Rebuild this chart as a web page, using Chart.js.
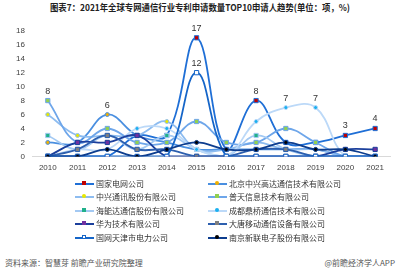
<!DOCTYPE html>
<html>
<head>
<meta charset="utf-8">
<script src="https://cdn.jsdelivr.net/npm/chart.js@4"></script>
<style>
  body { margin: 0; width: 400px; height: 268px; background: #fff; position: relative; overflow: hidden;
         font-family: "Noto Sans CJK SC", "Noto Sans", sans-serif; }
  #title { position: absolute; left: 0; width: 400px; top: 0px; text-align: center; font-size: 9.2px; font-weight: bold; color: #222; white-space: nowrap;
           transform: scaleX(0.91); transform-origin: 200px 0; }
  #wrap { position: absolute; left: 0; top: 18px; width: 400px; height: 162px; }
  #legend { position: absolute; left: 0; top: 178px; width: 400px; }
  .item { position: absolute; height: 12px; font-size: 8px; color: #333; line-height: 12px; white-space: nowrap; }
  .line { position: absolute; top: 5px; left: 0; width: 19px; height: 2px; }
  .mk { position: absolute; top: 3px; left: 7px; width: 4px; height: 4px; box-sizing: border-box; }
  .txt { position: absolute; left: 21px; top: 0; }
  #src { position: absolute; left: 5px; top: 257px; font-size: 8px; color: #555; white-space: nowrap; }
  #app { position: absolute; right: 5px; top: 257px; font-size: 8px; color: #555; white-space: nowrap; }
</style>
</head>
<body>
<div id="title">图表7：2021年全球专网通信行业专利申请数量TOP10申请人趋势(单位：项，%)</div>
<div id="wrap"><canvas id="myChart"></canvas></div>
<div id="legend"></div>
<div id="src">资料来源：智慧芽 前瞻产业研究院整理</div>
<div id="app">@前瞻经济学人APP</div>
<script>
// Years and tick values
const years = ['2010', '2011', '2012', '2013', '2014', '2015', '2016', '2017', '2018', '2019', '2020', '2021'];
const yTicks = [0, 2, 4, 6, 8, 10, 12, 14, 16, 18];

// Series values
const names = [
    '国家电网公司', '北京中兴高达通信技术有限公司',
    '中兴通讯股份有限公司', '普天信息技术有限公司',
    '海能达通信股份有限公司', '成都鼎桥通信技术有限公司',
    '华为技术有限公司', '大唐移动通信设备有限公司',
    '国网天津市电力公司', '南京新联电子股份有限公司'
];
const sgcc      = [0, 0, 0, 3, 3, 17, 1, 8, 2, 2, 3, 4];
const zxgd      = [2, 2, 6, 3, 2, 1, 1, 1, 1, 1, 0, 0];
const zte       = [6, 3, 3, 3, 5, 1, 1, 2, 1, 1, 0, 0];
const potevio   = [8, 2, 4, 2, 2, 5, 2, 2, 4, 2, 0, 0];
const hytera    = [3, 1, 3, 1, 3, 1, 0, 3, 1, 0, 0, 0];
const tdtech    = [0, 1, 1, 4, 4, 1, 0, 5, 7, 7, 0, 0];
const huawei    = [0, 2, 2, 3, 0, 0, 0, 0, 0, 0, 1, 1];
const datang    = [0, 1, 3, 1, 1, 0, 0, 1, 1, 0, 0, 0];
const tianjin   = [0, 0, 0, 0, 0, 12, 0, 0, 0, 0, 0, 0];
const xinlian   = [0, 0, 1, 0, 1, 2, 1, 1, 2, 1, 1, 0];

// Value labels shown above the peaks: [series index, year index]
const peakLabels = [[3, 0], [1, 2], [0, 5], [8, 5], [0, 7], [5, 8], [5, 9], [0, 10], [0, 11]];

const seriesData = [sgcc, zxgd, zte, potevio, hytera, tdtech, huawei, datang, tianjin, xinlian];
const lineColors = ['#1f6fd6', '#4a8fe0', '#8dbcf0', '#6ea6ea', '#a3c9f3', '#bcd9f8', '#1b3f9c', '#2d5fae', '#1565c8', '#0d3d8e'];
const markColors = ['#c00000', '#f0b000', '#e6e800', '#92d050', '#20b08a', '#1ab0f0', '#7030a0', '#7f7f7f', '#ffffff', '#000000'];
const markShapes = ['rect', 'circle', 'circle', 'rect', 'rect', 'circle', 'rect', 'rect', 'rect', 'circle'];

// Peak labels plugin
const labelPlugin = {
    id: 'peakLabels',
    afterDatasetsDraw(chart) {
        const c = chart.ctx;
        c.save();
        c.font = '9px "Liberation Sans", Arial, sans-serif';
        c.fillStyle = '#333';
        c.textAlign = 'center';
        c.textBaseline = 'bottom';
        peakLabels.forEach(([s, i]) => {
            const v = seriesData[s][i];
            const x = chart.scales.x.getPixelForValue(i);
            const y = chart.scales.y.getPixelForValue(v);
            c.fillText(String(v), x, y - 5);
        });
        c.restore();
    }
};

const datasets = names.map((n, k) => ({
    label: n,
    data: seriesData[k],
    borderColor: lineColors[k],
    borderWidth: 1.8,
    tension: 0.4,
    pointStyle: markShapes[k],
    pointRadius: markShapes[k] === 'rect' ? 3 : 2,
    pointBackgroundColor: markColors[k],
    pointBorderColor: k === 8 ? '#1565c8' : lineColors[k],
    pointBorderWidth: 1,
    order: 10 - k
}));

const ctx = document.getElementById('myChart').getContext('2d');
let myChart = new Chart(ctx, {
    type: 'line',
    data: { labels: years, datasets: datasets },
    options: {
        responsive: true,
        maintainAspectRatio: false,
        animation: false,
        layout: { padding: { top: 5, right: 10, left: 8, bottom: 0 } },
        plugins: { legend: { display: false }, tooltip: { enabled: false } },
        scales: {
            x: {
                offset: true,
                grid: { display: false, drawTicks: false },
                border: { color: '#d9d9d9', width: 1 },
                ticks: { color: '#404040', font: { size: 8, family: 'Liberation Sans' }, padding: 7 }
            },
            y: {
                min: 0, max: 18,
                afterBuildTicks(axis) { axis.ticks = yTicks.map(v => ({ value: v })); },
                grid: { display: false, drawTicks: false },
                border: { display: false },
                ticks: { color: '#404040', font: { size: 8, family: 'Liberation Sans' }, padding: 8 }
            }
        }
    },
    plugins: [labelPlugin]
});

// HTML legend, two columns
const legend = document.getElementById('legend');
names.forEach((n, k) => {
    const col = k % 2, row = Math.floor(k / 2);
    const item = document.createElement('div');
    item.className = 'item';
    item.style.left = (col === 0 ? 75 : 208) + 'px';
    item.style.top = (row * 13.4) + 'px';
    const ln = document.createElement('div');
    ln.className = 'line';
    ln.style.background = lineColors[k];
    const mk = document.createElement('div');
    mk.className = 'mk';
    mk.style.background = markColors[k];
    if (markShapes[k] === 'circle') mk.style.borderRadius = '50%';
    if (k === 8) mk.style.border = '1px solid #1565c8';
    const tx = document.createElement('div');
    tx.className = 'txt';
    tx.textContent = n;
    item.appendChild(ln); item.appendChild(mk); item.appendChild(tx);
    legend.appendChild(item);
});
</script>
</body>
</html>
